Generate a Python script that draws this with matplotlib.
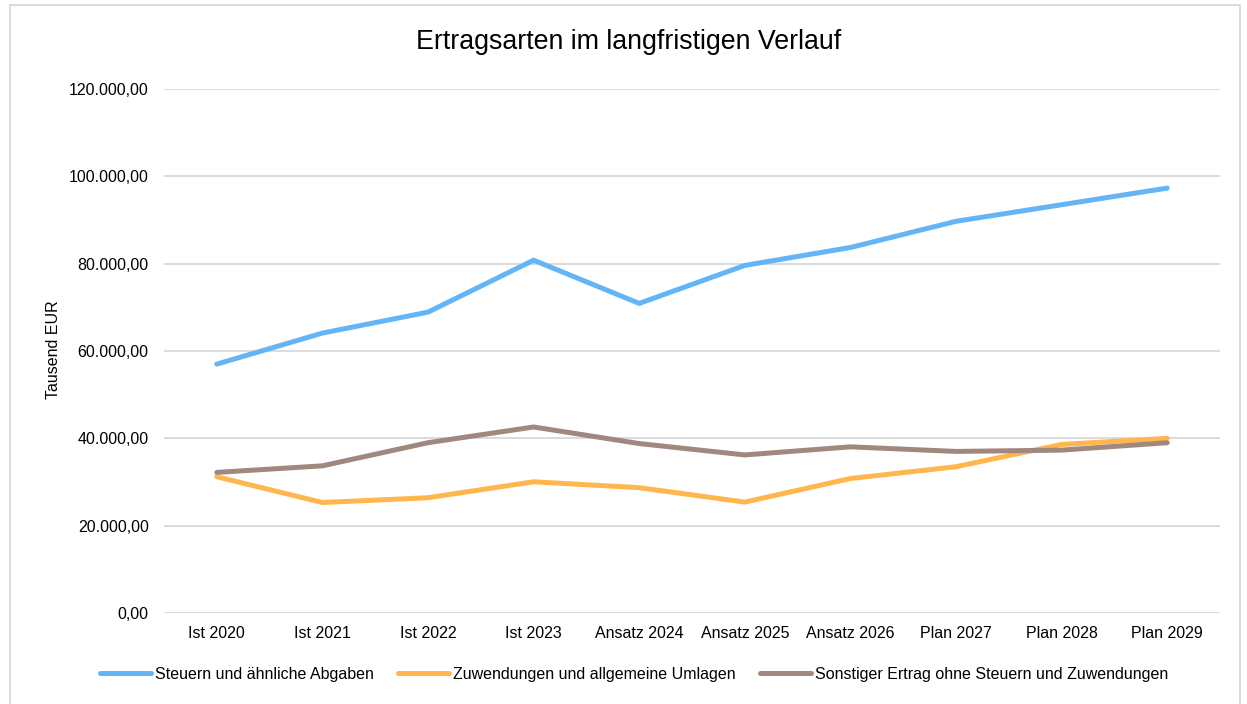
import matplotlib
matplotlib.use("Agg")
import matplotlib.pyplot as plt
from matplotlib.patches import Rectangle
from matplotlib.ticker import FuncFormatter

plt.rcParams['font.family'] = ['Liberation Sans', 'DejaVu Sans']

categories = ["Ist 2020", "Ist 2021", "Ist 2022", "Ist 2023", "Ansatz 2024",
              "Ansatz 2025", "Ansatz 2026", "Plan 2027", "Plan 2028", "Plan 2029"]
steuern = [57000, 64100, 68900, 80800, 70900, 79600, 83700, 89700, 93500, 97300]
zuwendungen = [31200, 25300, 26400, 30050, 28700, 25400, 30800, 33500, 38600, 40000]
sonstiger = [32200, 33700, 39000, 42600, 38800, 36200, 38050, 37000, 37300, 39000]
series_names = ["Steuern und ähnliche Abgaben",
                "Zuwendungen und allgemeine Umlagen",
                "Sonstiger Ertrag ohne Steuern und Zuwendungen"]
colors = ["#64B5F6", "#FFB74D", "#A1887F"]
yticks = [0, 20000, 40000, 60000, 80000, 100000, 120000]

W, H = 1247, 704
fig = plt.figure(figsize=(W/100, H/100), dpi=100)
ax = fig.add_axes([164/W, 1-613/H, (1220-164)/W, (613-89)/H])

x = list(range(len(categories)))
for vals, name, c in zip([steuern, zuwendungen, sonstiger], series_names, colors):
    ax.plot(x, vals, color=c, lw=3.6, label=name, solid_capstyle='round',
            solid_joinstyle='round', zorder=3)

ax.set_xlim(-0.5, len(categories)-0.5)
ax.set_ylim(0, 120000)
ax.set_yticks(yticks)
ax.yaxis.set_major_formatter(FuncFormatter(
    lambda v, p: f"{v:,.2f}".replace(",", "X").replace(".", ",").replace("X", ".")))
ax.set_xticks(x)
ax.set_xticklabels(categories)
ax.tick_params(length=0, labelsize=11.5, colors="#000000", pad=9)
ax.tick_params(axis='y', pad=11)
ax.grid(axis='y', color="#D9D9D9", lw=1.3, zorder=0)
for s in ax.spines.values():
    s.set_visible(False)
ax.set_axisbelow(True)

fig.text(53/W, 1-350/H, "Tausend EUR", rotation=90, ha='center', va='center', fontsize=11.5)
fig.text(629/W, 1-42/H, "Ertragsarten im langfristigen Verlauf", ha='center', va='center', fontsize=19.3)

fig.legend(loc='center', bbox_to_anchor=(634/W, 1-674/H), ncol=3, frameon=False,
           fontsize=11.5, handlelength=3.2, columnspacing=1.5, handletextpad=0.25)

fig.patches.append(Rectangle((10/W, -0.05), 1230/W, 1.05-5/H, transform=fig.transFigure,
                             fill=False, edgecolor="#D9D9D9", lw=1.3))

fig.savefig("out.png", dpi=100)
